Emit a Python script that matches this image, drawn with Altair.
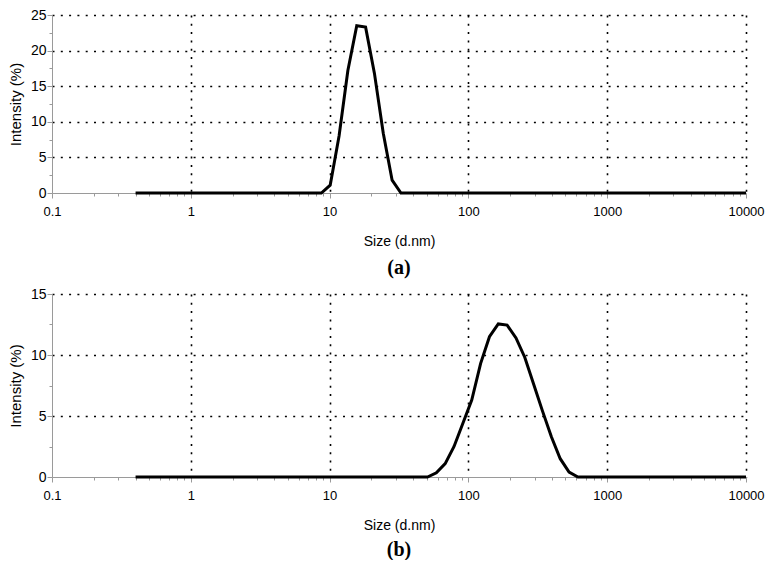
import altair as alt
import pandas as pd

# Malvern size bins (d.nm)
sizes = [0.4, 0.4632, 0.5365, 0.6213, 0.7195, 0.8332, 0.9649, 1.117, 1.294, 1.499,
         1.736, 2.010, 2.328, 2.696, 3.122, 3.615, 4.187, 4.849, 5.615, 6.503,
         7.531, 8.721, 10.10, 11.70, 13.54, 15.69, 18.17, 21.04, 24.36, 28.21,
         32.67, 37.84, 43.82, 50.75, 58.77, 68.06, 78.82, 91.28, 105.7, 122.4,
         141.8, 164.2, 190.1, 220.2, 255.0, 295.3, 342.0, 396.1, 458.7, 531.2,
         615.1, 712.4, 825.0, 955.4, 1106, 1281, 1484, 1718, 1990, 2305,
         2669, 3091, 3580, 4145, 4801, 5560, 6439, 7456, 8635, 10000]

intensity_a = [0, 0, 0, 0, 0, 0, 0, 0, 0, 0,
               0, 0, 0, 0, 0, 0, 0, 0, 0, 0,
               0, 0, 1.1, 8.0, 17.2, 23.5, 23.3, 16.8, 8.4, 1.8,
               0, 0, 0, 0, 0, 0, 0, 0, 0, 0,
               0, 0, 0, 0, 0, 0, 0, 0, 0, 0,
               0, 0, 0, 0, 0, 0, 0, 0, 0, 0,
               0, 0, 0, 0, 0, 0, 0, 0, 0, 0]

intensity_b = [0, 0, 0, 0, 0, 0, 0, 0, 0, 0,
               0, 0, 0, 0, 0, 0, 0, 0, 0, 0,
               0, 0, 0, 0, 0, 0, 0, 0, 0, 0,
               0, 0, 0, 0, 0.35, 1.1, 2.5, 4.4, 6.3, 9.3,
               11.5, 12.55, 12.45, 11.4, 9.8, 7.6, 5.4, 3.3, 1.5, 0.4,
               0, 0, 0, 0, 0, 0, 0, 0, 0, 0,
               0, 0, 0, 0, 0, 0, 0, 0, 0, 0]

x_ticks = [0.1, 0.2, 0.3, 0.4, 0.5, 0.6, 0.7, 0.8, 0.9,
           1, 2, 3, 4, 5, 6, 7, 8, 9,
           10, 20, 30, 40, 50, 60, 70, 80, 90,
           100, 200, 300, 400, 500, 600, 700, 800, 900,
           1000, 2000, 3000, 4000, 5000, 6000, 7000, 8000, 9000, 10000]

y_ticks_a = [0, 2.5, 5, 7.5, 10, 12.5, 15, 17.5, 20, 22.5, 25]
y_ticks_b = [0, 2.5, 5, 7.5, 10, 12.5, 15]

FONT = "Liberation Sans"
DEC = "abs(log(datum.value)/LN10 - round(log(datum.value)/LN10)) < 0.001"
GRID_COLOR = "#000000"
AXIS_COLOR = "#9a9a9a"


def panel(vals, yticks, ymax, label, width, height, ytitle_pad, title_offset):
    df = pd.DataFrame({"size": sizes, "intensity": vals})
    x_axis = alt.Axis(
        values=x_ticks,
        labelExpr=f"({DEC}) ? format(datum.value, '~g') : ''",
        grid=True,
        gridColor=GRID_COLOR,
        gridDash=[2, 6.3],
        gridWidth=1.6,
        gridOpacity={"condition": {"test": f"({DEC}) && datum.value > 0.5", "value": 1}, "value": 0},
        tickSize={"condition": {"test": DEC, "value": 5}, "value": 3},
        tickColor=AXIS_COLOR,
        domainColor=AXIS_COLOR,
        labelFont=FONT,
        labelFontSize=13,
        labelColor="#000",
        labelPadding=7,
        labelFlush=False,
        labelOverlap=False,
        title="Size (d.nm)",
        titleFont=FONT,
        titleFontSize=14,
        titleFontWeight="normal",
        titleColor="#000",
        titlePadding=16,
    )
    y_axis = alt.Axis(
        values=yticks,
        labelExpr="datum.value % 5 == 0 ? format(datum.value, 'd') : ''",
        grid=True,
        gridColor=GRID_COLOR,
        gridDash=[2, 6.3],
        gridWidth=1.6,
        gridOpacity={"condition": {"test": "datum.value % 5 == 0 && datum.value > 0", "value": 1}, "value": 0},
        tickSize={"condition": {"test": "datum.value % 5 == 0", "value": 5}, "value": 3},
        tickColor=AXIS_COLOR,
        domainColor=AXIS_COLOR,
        labelFont=FONT,
        labelFontSize=14,
        labelColor="#000",
        labelPadding=1,
        labelOverlap=False,
        title="Intensity (%)",
        titleFont=FONT,
        titleFontSize=15,
        titleFontWeight="normal",
        titleColor="#000",
        titlePadding=ytitle_pad,
    )
    return alt.Chart(df).mark_line(color="black", strokeWidth=3).encode(
        x=alt.X("size:Q", scale=alt.Scale(type="log", domain=[0.1, 10000], nice=False), axis=x_axis),
        y=alt.Y("intensity:Q", scale=alt.Scale(domain=[0, ymax], nice=False, zero=True), axis=y_axis),
    ).properties(
        width=width,
        height=height,
        title=alt.TitleParams(
            text=label, orient="bottom", font="Liberation Serif", fontSize=20,
            fontWeight="bold", color="#000", offset=title_offset, anchor="middle",
        ),
    )


chart_a = panel(intensity_a, y_ticks_a, 25, "(a)", 694, 178, 7, 10)
chart_b = panel(intensity_b, y_ticks_b, 15, "(b)", 694, 183, 7, 8)

chart = alt.concat(chart_a, chart_b, columns=1, spacing=9).properties(
    padding={"left": 0, "top": 0, "right": 0, "bottom": 0}
).configure_view(stroke=None)

chart.save("out.html", embed_options={"renderer": "svg", "actions": False})
